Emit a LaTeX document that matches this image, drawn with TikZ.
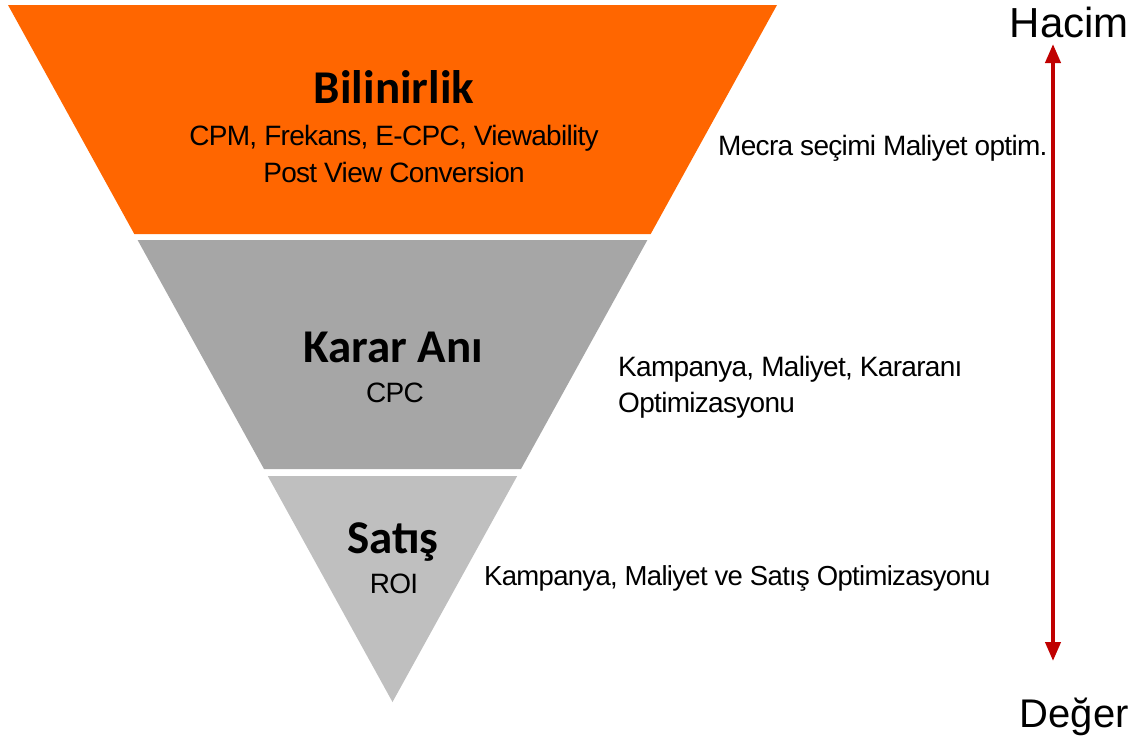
\documentclass[tikz,border=0pt]{standalone}
\usepackage{fontspec}
\setmainfont{Liberation Sans}
\newfontfamily\titlefont{Carlito}
\newfontfamily\bodyfont{Liberation Sans}[LetterSpace=-2.5]
\usetikzlibrary{arrows.meta, positioning}

\definecolor{funnelorange}{HTML}{FF6600}
\definecolor{funnelgrey}{HTML}{A6A6A6}
\definecolor{funnellight}{HTML}{BFBFBF}
\definecolor{arrowred}{HTML}{C00000}

\tikzset{
  stage/.style={inner sep=0pt, anchor=base, font=\titlefont\bfseries\fontsize{47}{52}\selectfont},
  metric/.style={inner sep=0pt, anchor=base, font=\bodyfont\fontsize{28}{32}\selectfont},
  remark/.style={inner sep=0pt, anchor=base west, font=\bodyfont\fontsize{28}{32}\selectfont},
  axislabel/.style={inner sep=0pt, anchor=base east, font=\fontsize{42}{46}\selectfont}
}

\begin{document}
\begin{tikzpicture}[x=1pt, y=-1pt]
    \useasboundingbox (0,0) rectangle (1130,737);

    % funnel layers
    \fill[funnelorange] (8,5) -- (777,5) -- (650.7,234) -- (134.3,234) -- cycle;
    \fill[funnelgrey] (137.6,240) -- (647.4,240) -- (521,469) -- (264,469) -- cycle;
    \fill[funnellight] (267.8,476) -- (517.2,476) -- (392.5,702) -- cycle;

    % stage texts
    \node[stage] (bilinirlik) at (394,103) {Bilinirlik};
    \node[metric] (cpm) at (394,145) {CPM, Frekans, E-CPC, Viewability};
    \node[metric] (pvc) at (394,182) {Post View Conversion};

    \node[stage] (karar) at (393,362) {Karar Anı};
    \node[metric] (cpc) at (395,402) {CPC};

    \node[stage] (satis) at (393,553) {Satış};
    \node[metric] (roi) at (394,593) {ROI};

    % remarks
    \node[remark] (mecra) at (718,155) {Mecra seçimi Maliyet optim.};
    \node[remark] (kampanya) at (618,376) {Kampanya, Maliyet, Kararanı};
    \node[remark] (optim) at (618,412) {Optimizasyonu};
    \node[remark, font=\bodyfont\fontsize{27.5}{32}\selectfont] (satisopt) at (484,585) {Kampanya, Maliyet ve Satış Optimizasyonu};

    % axis
    \node[axislabel] (hacim) at (1129,37) {Hacim};
    \node[axislabel, font=\fontsize{40}{44}\selectfont] (deger) at (1129,727) {Değer};
    \coordinate (top) at (1053,44);
    \coordinate (bottom) at (1053,661);
    \draw[arrowred, line width=4pt, {Triangle[width=15pt,length=19pt]}-{Triangle[width=15pt,length=19pt]}] (top) -- (bottom);
\end{tikzpicture}
\end{document}
